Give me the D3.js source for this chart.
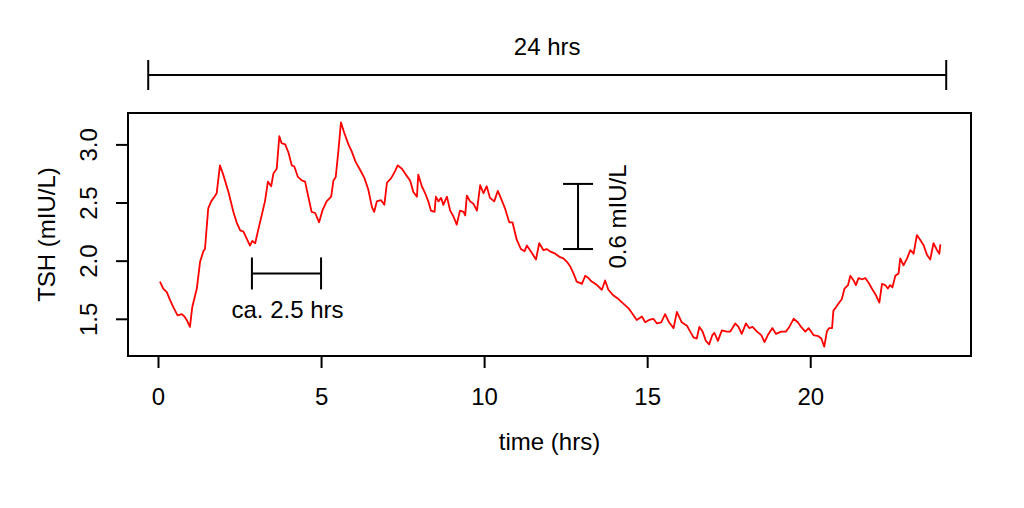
<!DOCTYPE html>
<html>
<head>
<meta charset="utf-8">
<script src="https://cdn.jsdelivr.net/npm/d3@7"></script>
<style>
  body { margin: 0; background: #fff; }
  svg { display: block; font-family: "Liberation Sans", Arial, sans-serif; }
</style>
</head>
<body>
<svg></svg>
<script>
// time in hours, TSH in mIU/L
const hours = [
  0.06, 0.16, 0.27, 0.37, 0.47, 0.60, 0.73, 0.81, 0.88, 0.98,
  1.05, 1.19, 1.29, 1.39, 1.44, 1.54, 1.63, 1.73, 1.80, 1.90,
  2.00, 2.16, 2.31, 2.41, 2.52, 2.62, 2.72, 2.82, 2.89, 2.98,
  3.06, 3.18, 3.28, 3.37, 3.47, 3.54, 3.64, 3.72, 3.79, 3.90,
  4.00, 4.10, 4.18, 4.29, 4.41, 4.51, 4.61, 4.71, 4.82, 4.94,
  5.04, 5.17, 5.31, 5.38, 5.45, 5.53, 5.61, 5.71, 5.84, 5.94,
  6.06, 6.20, 6.33, 6.45, 6.56, 6.63, 6.71, 6.84, 6.94, 7.02,
  7.15, 7.27, 7.35, 7.48, 7.60, 7.73, 7.83, 7.94, 7.98, 8.09,
  8.19, 8.29, 8.37, 8.48, 8.52, 8.60, 8.68, 8.75, 8.86, 8.96,
  9.06, 9.16, 9.26, 9.37, 9.42, 9.47, 9.57, 9.67, 9.78, 9.88,
  9.98, 10.08, 10.18, 10.31, 10.42, 10.54, 10.64, 10.77, 10.87, 11.00,
  11.13, 11.24, 11.31, 11.41, 11.48, 11.59, 11.69, 11.82, 11.92, 12.02,
  12.18, 12.33, 12.43, 12.54, 12.64, 12.74, 12.84, 13.00, 13.10, 13.20,
  13.30, 13.46, 13.61, 13.71, 13.81, 13.97, 14.12, 14.27, 14.43, 14.58,
  14.68, 14.84, 14.94, 15.06, 15.19, 15.30, 15.43, 15.55, 15.67, 15.81,
  15.91, 16.06, 16.22, 16.32, 16.42, 16.52, 16.60, 16.70, 16.80, 16.90,
  17.00, 17.06, 17.17, 17.29, 17.44, 17.55, 17.70, 17.80, 17.90, 18.03,
  18.13, 18.23, 18.37, 18.50, 18.60, 18.70, 18.84, 18.95, 19.11, 19.25,
  19.36, 19.49, 19.62, 19.72, 19.85, 19.95, 20.10, 20.25, 20.34, 20.43,
  20.51, 20.58, 20.67, 20.71, 20.79, 20.89, 20.97, 21.05, 21.16, 21.23,
  21.33, 21.40, 21.48, 21.60, 21.69, 21.79, 21.89, 22.02, 22.12, 22.20,
  22.30, 22.38, 22.45, 22.52, 22.61, 22.71, 22.76, 22.86, 22.97, 23.07,
  23.17, 23.27, 23.37, 23.48, 23.58, 23.68, 23.78, 23.89, 23.96, 23.99
];
const tsh = [
  1.82, 1.76, 1.73, 1.66, 1.60, 1.53, 1.54, 1.52, 1.49, 1.43,
  1.60, 1.76, 1.99, 2.08, 2.10, 2.45, 2.51, 2.55, 2.58, 2.82,
  2.74, 2.59, 2.42, 2.33, 2.26, 2.25, 2.19, 2.13, 2.17, 2.15,
  2.25, 2.39, 2.51, 2.68, 2.64, 2.75, 2.79, 3.07, 3.01, 3.00,
  2.93, 2.82, 2.81, 2.72, 2.69, 2.68, 2.55, 2.42, 2.41, 2.33,
  2.43, 2.51, 2.55, 2.69, 2.72, 2.94, 3.19, 3.10, 3.00, 2.94,
  2.85, 2.78, 2.71, 2.61, 2.46, 2.42, 2.51, 2.52, 2.48, 2.67,
  2.71, 2.77, 2.82, 2.79, 2.74, 2.69, 2.59, 2.55, 2.74, 2.64,
  2.58, 2.51, 2.43, 2.42, 2.55, 2.51, 2.54, 2.48, 2.55, 2.43,
  2.38, 2.31, 2.43, 2.42, 2.39, 2.56, 2.51, 2.49, 2.43, 2.65,
  2.58, 2.64, 2.54, 2.51, 2.60, 2.52, 2.45, 2.33, 2.33, 2.18,
  2.10, 2.08, 2.13, 2.09, 2.06, 2.01, 2.15, 2.09, 2.10, 2.08,
  2.06, 2.03, 2.02, 1.99, 1.95, 1.89, 1.82, 1.80, 1.87, 1.85,
  1.82, 1.79, 1.75, 1.83, 1.75, 1.70, 1.67, 1.63, 1.59, 1.53,
  1.49, 1.52, 1.47, 1.49, 1.50, 1.46, 1.47, 1.54, 1.47, 1.42,
  1.56, 1.47, 1.44, 1.39, 1.34, 1.33, 1.43, 1.39, 1.31, 1.28,
  1.36, 1.38, 1.31, 1.40, 1.39, 1.39, 1.46, 1.43, 1.37, 1.46,
  1.42, 1.43, 1.39, 1.36, 1.30, 1.36, 1.42, 1.37, 1.39, 1.39,
  1.43, 1.50, 1.47, 1.43, 1.39, 1.42, 1.36, 1.35, 1.33, 1.26,
  1.39, 1.42, 1.42, 1.57, 1.60, 1.64, 1.67, 1.76, 1.79, 1.87,
  1.83, 1.79, 1.85, 1.84, 1.85, 1.81, 1.76, 1.70, 1.64, 1.80,
  1.79, 1.76, 1.79, 1.77, 1.87, 1.89, 2.02, 1.96, 2.02, 2.09,
  2.06, 2.22, 2.18, 2.13, 2.05, 2.01, 2.15, 2.09, 2.06, 2.14
];

const xTicks = [0, 5, 10, 15, 20];
const yTicks = [1.5, 2.0, 2.5, 3.0];

// annotations: brackets in data units
const daySpan = [-0.3, 24.17];
const dayLabel = '24 hrs';
const periodSpan = [2.88, 5.0];
const periodLevel = 1.89;
const periodLabel = 'ca. 2.5 hrs';
const ampSpan = [2.10, 2.66];
const ampHour = 12.88;
const ampLabel = '0.6 mIU/L';

const width = 1024;
const height = 508;
const plot = {left: 128, right: 971, top: 113, bottom: 356};

const svg = d3.select('svg').attr('width', width).attr('height', height);

const xScale = d3.scaleLinear().domain([-0.92, 24.93]).range([plot.left, plot.right]);
const yScale = d3.scaleLinear().domain([1.18, 3.27]).range([plot.bottom, plot.top]);

const data = hours.map((h, i) => ({h: h, v: tsh[i]}));
const fontSize = 24;
const stroke = 2;

// axes
const xAxis = svg.append('g')
    .attr('transform', 'translate(0,' + plot.bottom + ')')
    .call(d3.axisBottom(xScale).tickValues(xTicks).tickFormat(d3.format('d')).tickSize(12).tickPadding(20));
const yAxis = svg.append('g')
    .attr('transform', 'translate(' + plot.left + ',0)')
    .call(d3.axisLeft(yScale).tickValues(yTicks).tickFormat(d3.format('.1f')).tickSize(12));

[xAxis, yAxis].forEach(a => {
  a.select('.domain').remove();
  a.selectAll('.tick line').attr('stroke', '#000').attr('stroke-width', stroke);
  a.selectAll('text').attr('font-size', fontSize).attr('font-family', null).attr('fill', '#000');
});
xAxis.selectAll('.tick text').attr('dy', '0.71em');
yAxis.selectAll('.tick text')
    .attr('x', null).attr('dy', null)
    .attr('text-anchor', 'middle')
    .attr('transform', 'translate(-31,0) rotate(-90)');

// axis line spanning the ticks
svg.append('line')
    .attr('x1', xScale(xTicks[0])).attr('x2', xScale(xTicks[xTicks.length - 1]))
    .attr('y1', plot.bottom).attr('y2', plot.bottom)
    .attr('stroke', '#000').attr('stroke-width', stroke);

// box
svg.append('rect')
    .attr('x', plot.left).attr('y', plot.top)
    .attr('width', plot.right - plot.left).attr('height', plot.bottom - plot.top)
    .attr('fill', 'none').attr('stroke', '#000').attr('stroke-width', stroke);

// axis titles
svg.append('text')
    .attr('x', (plot.left + plot.right) / 2).attr('y', 450)
    .attr('text-anchor', 'middle').attr('font-size', fontSize)
    .text('time (hrs)');
svg.append('text')
    .attr('transform', 'translate(55,' + (plot.top + plot.bottom) / 2 + ') rotate(-90)')
    .attr('text-anchor', 'middle').attr('font-size', fontSize)
    .text('TSH (mIU/L)');

// the series
const line = d3.line().x(d => xScale(d.h)).y(d => yScale(d.v));
svg.append('path')
    .datum(data)
    .attr('fill', 'none')
    .attr('stroke', '#ff0000')
    .attr('stroke-width', 1.8)
    .attr('stroke-linejoin', 'round')
    .attr('d', line);

// horizontal bracket helper
function hBracket(x0, x1, y, cap) {
  const g = svg.append('g').attr('stroke', '#000').attr('stroke-width', stroke);
  g.append('line').attr('x1', x0).attr('x2', x1).attr('y1', y).attr('y2', y);
  g.append('line').attr('x1', x0).attr('x2', x0).attr('y1', y - cap).attr('y2', y + cap);
  g.append('line').attr('x1', x1).attr('x2', x1).attr('y1', y - cap).attr('y2', y + cap);
}

// 24 hrs bracket above the plot
hBracket(xScale(daySpan[0]), xScale(daySpan[1]), 75, 15);
svg.append('text')
    .attr('x', xScale(d3.mean(daySpan))).attr('y', 55)
    .attr('text-anchor', 'middle').attr('font-size', fontSize)
    .text(dayLabel);

// period bracket
hBracket(xScale(periodSpan[0]), xScale(periodSpan[1]), yScale(periodLevel), 16);
svg.append('text')
    .attr('x', xScale(d3.mean(periodSpan)) + 1).attr('y', yScale(periodLevel) + 45)
    .attr('text-anchor', 'middle').attr('font-size', fontSize)
    .text(periodLabel);

// amplitude bracket
const ax = xScale(ampHour);
const ag = svg.append('g').attr('stroke', '#000').attr('stroke-width', stroke);
ag.append('line').attr('x1', ax).attr('x2', ax).attr('y1', yScale(ampSpan[0])).attr('y2', yScale(ampSpan[1]));
ampSpan.forEach(v => {
  ag.append('line').attr('x1', ax - 15).attr('x2', ax + 15).attr('y1', yScale(v)).attr('y2', yScale(v));
});
svg.append('text')
    .attr('transform', 'translate(' + (ax + 48) + ',' + yScale(d3.mean(ampSpan)) + ') rotate(-90)')
    .attr('text-anchor', 'middle').attr('font-size', fontSize)
    .text(ampLabel);
</script>
</body>
</html>
